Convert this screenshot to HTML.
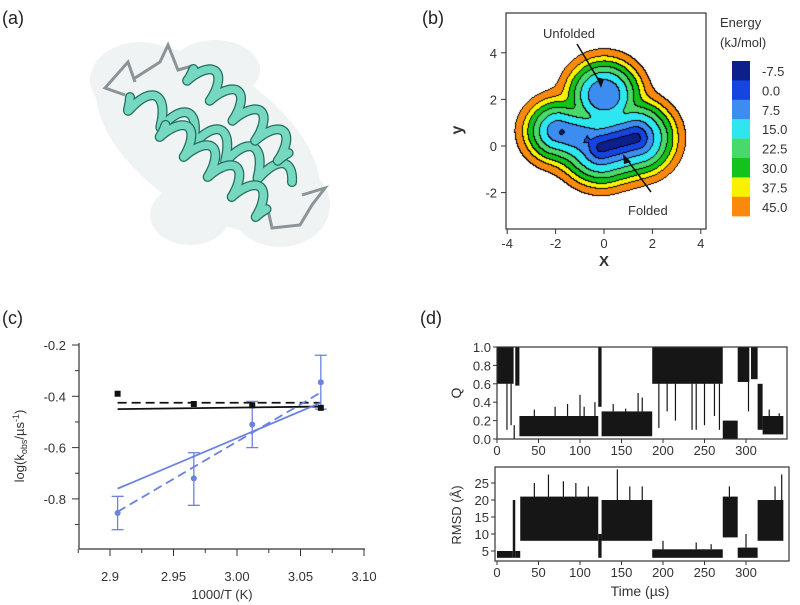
<!DOCTYPE html>
<html><head><meta charset="utf-8">
<style>
html,body{margin:0;padding:0;background:#fff;}
body{width:800px;height:605px;position:relative;overflow:hidden;font-family:"Liberation Sans",sans-serif;}
svg{position:absolute;left:0;top:0;}
#pes{position:absolute;left:506px;top:13px;}
</style></head>
<body>
<canvas id="pes" width="200" height="216"></canvas>
<svg id="fig" width="800" height="605" viewBox="0 0 800 605"></svg>
<script>
// ---------- Panel (c) data ----------
const tempX = [2.906, 2.966, 3.012, 3.066];
const blackVals = [-0.39, -0.43, -0.435, -0.445];
const blueVals = [-0.855, -0.72, -0.51, -0.345];
const blueErrLo = [-0.92, -0.825, -0.60, -0.45];
const blueErrHi = [-0.79, -0.62, -0.42, -0.24];
const fitX = [2.906, 3.066];
const blackSolidFit = [-0.45, -0.44];
const blackDashFit = [-0.425, -0.425];
const blueSolidFit = [-0.76, -0.425];
const blueDashFit = [-0.85, -0.385];
const cXTicks = [2.9, 2.95, 3.0, 3.05, 3.1];
const cXTickLabels = ["2.9", "2.95", "3.00", "3.05", "3.10"];
const cYTicks = [-0.2, -0.4, -0.6, -0.8];
const cYTickLabels = ["-0.2", "-0.4", "-0.6", "-0.8"];
// ---------- Panel (d) data ----------
const qSegStart = [0, 20, 22, 27, 122, 126, 187, 272, 290, 306, 314, 320];
const qSegEnd   = [20, 21.5, 27, 122, 126, 187, 272, 290, 304, 314, 320, 345];
const qSegLo    = [0.6, 0.0, 0.58, 0.03, 0.35, 0.03, 0.6, 0.0, 0.62, 0.65, 0.1, 0.05];
const qSegHi    = [1.0, 0.15, 1.0, 0.25, 1.0, 0.3, 1.0, 0.2, 1.0, 1.0, 0.6, 0.25];
const qSpikeT = [12, 17, 45, 70, 85, 100, 105, 118, 140, 155, 170, 175, 195, 205, 215, 235, 240, 250, 262, 268, 303, 328, 340];
const qSpikeV = [0.1, 0.15, 0.32, 0.35, 0.38, 0.48, 0.35, 0.4, 0.38, 0.33, 0.5, 0.45, 0.12, 0.3, 0.2, 0.1, 0.1, 0.15, 0.25, 0.1, 0.3, 0.32, 0.28];
const rSegStart = [0, 19, 22, 28, 122, 126, 187, 272, 290, 314];
const rSegEnd   = [19, 22, 28, 122, 126, 187, 272, 290, 314, 345];
const rSegLo    = [3, 3, 3, 8, 3, 8, 3, 9, 3, 8];
const rSegHi    = [5, 20, 5, 21, 10, 20, 5.5, 21, 6, 20];
const rSpikeT = [45, 62, 80, 95, 110, 145, 160, 175, 200, 240, 258, 280, 300, 335, 343];
const rSpikeV = [25, 27.5, 25.5, 25, 24, 29, 24, 24, 8, 7.5, 7, 24, 10, 24, 27.5];
const dXTicks = [0, 50, 100, 150, 200, 250, 300];
const qYTicks = [0, 0.2, 0.4, 0.6, 0.8, 1.0];
const qYTickLabels = ["0.0", "0.2", "0.4", "0.6", "0.8", "1.0"];
const rYTicks = [5, 10, 15, 20, 25];
// ---------- Panel (b) data ----------
const energyLevels = ["-7.5", "0.0", "7.5", "15.0", "22.5", "30.0", "37.5", "45.0"];
const energyColors = ["#0c1f8a", "#1445e0", "#3b8def", "#2ee6f0", "#48d96a", "#13c21b", "#f8f200", "#fb8a0c"];
const bTicks = [-4, -2, 0, 2, 4];
const bYTicks = [4, 2, 0, -2];

const NS = "http://www.w3.org/2000/svg";
const fig = document.getElementById('fig');
function mk(tag, attrs, parent) {
  const e = document.createElementNS(NS, tag);
  for (const k in attrs) e.setAttribute(k, attrs[k]);
  (parent || fig).appendChild(e);
  return e;
}
function txt(x, y, s, size, anchor, parent, extra) {
  const t = mk('text', Object.assign({x: x, y: y, 'font-size': size, 'text-anchor': anchor || 'start', fill: '#333', 'font-family': 'Liberation Sans, sans-serif'}, extra || {}), parent);
  t.textContent = s;
  return t;
}

// ================= Panel (a) =================
const gA = mk('g', {});


txt(2, 24, "(a)", 18, 'start', gA, {fill: '#222'});
const blob = mk('g', {fill: '#f0f3f3'}, gA);


mk('ellipse', {cx: 208, cy: 140, rx: 128, ry: 70, transform: 'rotate(35 208 140)'}, blob);
mk('ellipse', {cx: 140, cy: 80, rx: 50, ry: 38}, blob);
mk('ellipse', {cx: 280, cy: 205, rx: 50, ry: 42}, blob);
mk('ellipse', {cx: 215, cy: 70, rx: 45, ry: 30}, blob);
mk('ellipse', {cx: 190, cy: 215, rx: 40, ry: 30}, blob);
function helix(x0, y0, x1, y1, turns, amp, name) {
  const dx = x1 - x0, dy = y1 - y0, L = Math.hypot(dx, dy);
  const ux = dx / L, uy = dy / L, nx = -uy, ny = ux;
  let d = '';
  for (let i = 0; i <= 200; i++) {
    const t = i / 200, s = Math.sin(2 * Math.PI * turns * t), c = Math.cos(2 * Math.PI * turns * t);
    const px = x0 + dx * t + nx * amp * s + ux * amp * 0.35 * c;
    const py = y0 + dy * t + ny * amp * s + uy * amp * 0.35 * c;
    d += (i ? 'L' : 'M') + px.toFixed(1) + ' ' + py.toFixed(1);
  }
  const g = mk('g', {}, gA);
  
  
  mk('path', {d: d, fill: 'none', stroke: '#1f6e5c', 'stroke-width': 10, 'stroke-linecap': 'round', 'stroke-linejoin': 'round'}, g);
  mk('path', {d: d, fill: 'none', stroke: '#76d8c0', 'stroke-width': 7.5, 'stroke-linecap': 'round', 'stroke-linejoin': 'round'}, g);
}
const loops = mk('g', {fill: 'none', stroke: '#8a9499', 'stroke-width': 3}, gA);


mk('path', {d: 'M125 95 L105 88 L128 62 L135 82 M135 78 L160 62 L168 45 L178 70 L192 66'}, loops);
mk('path', {d: 'M268 210 L272 228 L300 225 L312 205 L325 188 L302 195'}, loops);
helix(126, 95, 288, 180, 5, 13, 'helix-1');
helix(190, 66, 292, 156, 4.5, 13, 'helix-2');
helix(162, 122, 270, 212, 4.5, 13, 'helix-3');

// ================= Panel (b) =================
const gB = mk('g', {});


txt(422, 24, "(b)", 18, 'start', gB, {fill: '#222'});
const bx = v => 604 + v * 24.2, by = v => 146 - v * 23.3;
(function () {
  const cv = document.getElementById('pes'), ctx = cv.getContext('2d');
  const W = 200, H = 216, img = ctx.createImageData(W, H);
  const thr = [0.1, 0.38, 0.65, 0.97, 1.22, 1.45, 1.67, 1.98];
  function segDist(px, py, ax, ay, bx2, by2) {
    const vx = bx2 - ax, vy = by2 - ay, t = Math.max(0, Math.min(1, ((px - ax) * vx + (py - ay) * vy) / (vx * vx + vy * vy)));
    return Math.hypot(px - ax - t * vx, py - ay - t * vy);
  }
  const lvl = new Int8Array(W * H);
  for (let j = 0; j < H; j++) for (let i = 0; i < W; i++) {
    const x = (i + 506 - 604) / 24.2, y = (146 - (j + 13)) / 23.3;
    const d1 = Math.max(0, segDist(x, y, -0.1, -0.05, 1.3, 0.35) - 0.1);
    const d2 = 0.45 + Math.max(0, Math.hypot(x, y - 2.2) - 0.45);
    const d3 = 0.42 + Math.max(0, segDist(x, y, -1.9, 0.65, -0.9, 0.35) - 0.22);
    const s = 0.18;
    let d = -s * Math.log(Math.exp(-d1 / s) + Math.exp(-d2 / s) + Math.exp(-d3 / s));
    if (Math.hypot(x + 1.75, y - 0.6) < 0.1) d = 0.05;
    let k = 8;
    for (let m = 0; m < 8; m++) if (d < thr[m]) { k = m; break; }
    lvl[j * W + i] = k;
  }
  const rgb = energyColors.map(c => [parseInt(c.substr(1, 2), 16), parseInt(c.substr(3, 2), 16), parseInt(c.substr(5, 2), 16)]).concat([[255, 255, 255]]);
  for (let j = 0; j < H; j++) for (let i = 0; i < W; i++) {
    const k = lvl[j * W + i];
    let c = rgb[k];
    if ((i + 1 < W && lvl[j * W + i + 1] !== k) || (j + 1 < H && lvl[(j + 1) * W + i] !== k)) c = [0, 0, 0];
    const p = (j * W + i) * 4;
    img.data[p] = c[0]; img.data[p + 1] = c[1]; img.data[p + 2] = c[2]; img.data[p + 3] = 255;
  }
  ctx.putImageData(img, 0, 0);
})();
const bBox = mk('rect', {x: 506, y: 13, width: 200, height: 216, fill: 'none', stroke: '#333', 'stroke-width': 1.2}, gB);


bTicks.forEach(v => {
  mk('line', {x1: bx(v), x2: bx(v), y1: 229, y2: 234, stroke: '#333'}, gB);
  txt(bx(v), 248, String(v), 13, 'middle', gB);
});
bYTicks.forEach(v => {
  mk('line', {x1: 501, x2: 506, y1: by(v), y2: by(v), stroke: '#333'}, gB);
  txt(497, by(v) + 5, String(v), 13, 'end', gB);
});
txt(604, 266, "X", 15, 'middle', gB, {'font-weight': 'bold'});
txt(462, 130, "y", 16, 'middle', gB, {'font-weight': 'bold', transform: 'rotate(-90 462 130)'});
txt(543, 38, "Unfolded", 13, 'start', gB);
txt(628, 215, "Folded", 13, 'start', gB);
mk('path', {d: 'M577 44 L601 84', stroke: '#111', 'stroke-width': 1.5}, gB);
mk('path', {d: 'M601 88 L596 77 L604 79 Z', fill: '#111'}, gB);
mk('path', {d: 'M651 192 L626 158', stroke: '#111', 'stroke-width': 1.5}, gB);
mk('path', {d: 'M623 154 L631 162 L624 164 Z', fill: '#111'}, gB);
txt(720, 27, "Energy", 13, 'start', gB);
txt(720, 47, "(kJ/mol)", 13, 'start', gB);
energyLevels.forEach((lab, i) => {
  const r = mk('rect', {x: 732, y: 61 + i * 19.4, width: 18, height: 19.6, fill: energyColors[i]}, gB);
  
  
  txt(762, 76 + i * 19.4, lab, 13, 'start', gB);
});

// ================= Panel (c) =================
const gC = mk('g', {});


txt(2, 324, "(c)", 18, 'start', gC, {fill: '#222'});
const cx = v => 110 + (v - 2.9) * 1270, cy = v => 345 + (-0.2 - v) * 256.5;
mk('line', {x1: 79, x2: 79, y1: 343, y2: 549, stroke: '#333', 'stroke-width': 1.2}, gC);
mk('line', {x1: 79, x2: 365, y1: 549, y2: 549, stroke: '#333', 'stroke-width': 1.2}, gC);
cXTicks.forEach((v, i) => {
  mk('line', {x1: cx(v), x2: cx(v), y1: 549, y2: 556, stroke: '#333'}, gC);
  if (i < cXTicks.length - 1) mk('line', {x1: cx(v + 0.025), x2: cx(v + 0.025), y1: 549, y2: 553, stroke: '#333'}, gC);
  txt(cx(v), 581, cXTickLabels[i], 13, 'middle', gC);
});
mk('line', {x1: cx(2.875), x2: cx(2.875), y1: 549, y2: 553, stroke: '#333'}, gC);
cYTicks.forEach((v, i) => {
  mk('line', {x1: 72, x2: 79, y1: cy(v), y2: cy(v), stroke: '#333'}, gC);
  mk('line', {x1: 75, x2: 79, y1: cy(v - 0.1), y2: cy(v - 0.1), stroke: '#333'}, gC);
  txt(66, cy(v) + 5, cYTickLabels[i], 13, 'end', gC);
});
txt(222, 599, "1000/T (K)", 13, 'middle', gC);
const yl = mk('text', {x: 24, y: 446, 'font-size': 13, 'text-anchor': 'middle', fill: '#333', transform: 'rotate(-90 24 446)', 'font-family': 'Liberation Sans, sans-serif'}, gC);

yl.innerHTML = 'log(k<tspan font-size="9" dy="3">obs</tspan><tspan dy="-3">/µs</tspan><tspan font-size="9" dy="-5">-1</tspan><tspan dy="5">)</tspan>';
function fit(vals, color, dash, name) {
  const l = mk('line', {x1: cx(fitX[0]), x2: cx(fitX[1]), y1: cy(vals[0]), y2: cy(vals[1]), stroke: color, 'stroke-width': 1.8, 'stroke-dasharray': dash || 'none'}, gC);
  
  
}
fit(blackSolidFit, '#111', null, 'black-solid-fit');
fit(blackDashFit, '#111', '9 5', 'black-dashed-fit');
fit(blueSolidFit, '#6a82e0', null, 'blue-solid-fit');
fit(blueDashFit, '#6a82e0', '9 5', 'blue-dashed-fit');
tempX.forEach((t, i) => {
  const e = mk('g', {stroke: '#6a82e0', 'stroke-width': 1.3}, gC);
  
  
  mk('line', {x1: cx(t), x2: cx(t), y1: cy(blueErrLo[i]), y2: cy(blueErrHi[i])}, e);
  mk('line', {x1: cx(t) - 6, x2: cx(t) + 6, y1: cy(blueErrLo[i]), y2: cy(blueErrLo[i])}, e);
  mk('line', {x1: cx(t) - 6, x2: cx(t) + 6, y1: cy(blueErrHi[i]), y2: cy(blueErrHi[i])}, e);
  const p = mk('circle', {cx: cx(t), cy: cy(blueVals[i]), r: 3, fill: '#6a82e0'}, gC);
  
  
  const s = mk('rect', {x: cx(t) - 3, y: cy(blackVals[i]) - 3, width: 6, height: 6, fill: '#111'}, gC);
  
  
});

// ================= Panel (d) =================
const gD = mk('g', {});


txt(420, 324, "(d)", 18, 'start', gD, {fill: '#222'});
const tx = t => 497 + t * 0.83;
const qy = v => 439 - v * 92, ry = v => 568 - v * 3.4;
function bands(starts, ends, los, his, yf, name) {
  const g = mk('g', {fill: '#161616'}, gD);
  
  
  starts.forEach((s, i) => {
    mk('rect', {x: tx(s), y: yf(his[i]), width: Math.max(1, tx(ends[i]) - tx(s)), height: yf(los[i]) - yf(his[i])}, g);
  });
  return g;
}
function spikes(ts, vs, starts, ends, los, his, yf, g) {
  ts.forEach((t, i) => {
    let k = 0;
    for (let m = 0; m < starts.length; m++) if (t >= starts[m] && t <= ends[m]) k = m;
    const base = vs[i] > his[k] ? his[k] : los[k];
    mk('line', {x1: tx(t), x2: tx(t), y1: yf(base), y2: yf(vs[i]), stroke: '#161616', 'stroke-width': 1.2}, g);
  });
}
const qg = bands(qSegStart, qSegEnd, qSegLo, qSegHi, qy, 'q-trace');
spikes(qSpikeT, qSpikeV, qSegStart, qSegEnd, qSegLo, qSegHi, qy, qg);
const rg = bands(rSegStart, rSegEnd, rSegLo, rSegHi, ry, 'rmsd-trace');
spikes(rSpikeT, rSpikeV, rSegStart, rSegEnd, rSegLo, rSegHi, ry, rg);
const qf = mk('rect', {x: 497, y: 347, width: 290, height: 92, fill: 'none', stroke: '#333', 'stroke-width': 1.2}, gD);


const rf = mk('rect', {x: 495, y: 467, width: 294, height: 94, fill: 'none', stroke: '#333', 'stroke-width': 1.2}, gD);


dXTicks.forEach(v => {
  mk('line', {x1: tx(v), x2: tx(v), y1: 439, y2: 443, stroke: '#333'}, gD);
  txt(tx(v), 455, String(v), 13, 'middle', gD);
  mk('line', {x1: tx(v), x2: tx(v), y1: 561, y2: 565, stroke: '#333'}, gD);
  txt(tx(v), 577, String(v), 13, 'middle', gD);
});
qYTicks.forEach((v, i) => {
  mk('line', {x1: 493, x2: 497, y1: qy(v), y2: qy(v), stroke: '#333'}, gD);
  txt(491, qy(v) + 5, qYTickLabels[i], 13, 'end', gD);
});
rYTicks.forEach(v => {
  mk('line', {x1: 491, x2: 495, y1: ry(v), y2: ry(v), stroke: '#333'}, gD);
  txt(489, ry(v) + 5, String(v), 13, 'end', gD);
});
txt(461, 393, "Q", 14, 'middle', gD, {transform: 'rotate(-90 461 393)'});
txt(461, 515, "RMSD (Å)", 13, 'middle', gD, {transform: 'rotate(-90 461 515)'});
txt(640, 596, "Time (µs)", 14, 'middle', gD);
</script>
</body></html>
